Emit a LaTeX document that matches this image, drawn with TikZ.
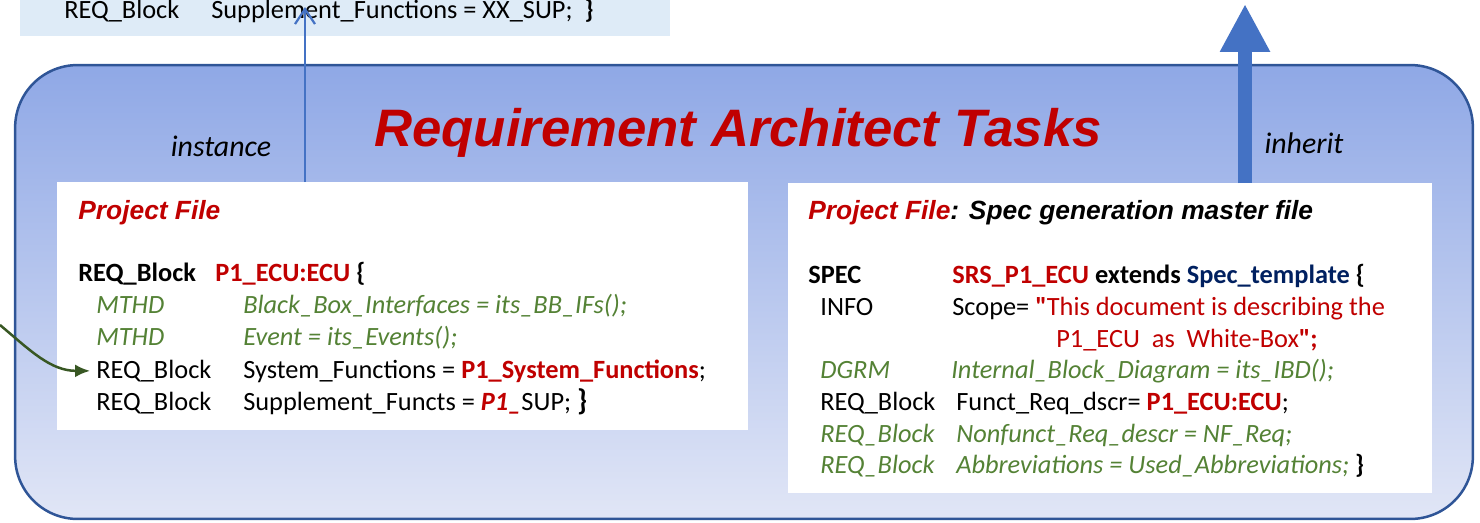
\documentclass[tikz,border=0pt]{standalone}
\usepackage{fontspec}
\setmainfont{Carlito}
\newfontfamily\arialfont{Liberation Sans}
\usepackage{xcolor}
\usepackage{tikz}
\usetikzlibrary{arrows.meta,positioning,calc}

\definecolor{taskred}{HTML}{C00000}
\definecolor{codegreen}{HTML}{548235}
\definecolor{linkgreen}{HTML}{385723}
\definecolor{arrowblue}{HTML}{4472C4}
\definecolor{frameblue}{HTML}{2F5597}
\definecolor{navyblue}{HTML}{002060}
\definecolor{supfill}{HTML}{DEEBF7}
\definecolor{tasktop}{HTML}{8FA8E6}
\definecolor{taskbottom}{HTML}{E1E6F6}

% first column of a code line
\newcommand{\col}[2]{\makebox[#1][l]{#2}}
\newcommand{\rd}[1]{\textcolor{taskred}{\textbf{#1}}}

\begin{document}
\begin{tikzpicture}[
    x=0.02cm, y=-0.02cm,
    taskframe/.style={draw=frameblue, line width=0.05cm, top color=tasktop, bottom color=taskbottom, rounded corners=1.25cm, inner sep=0},
    filebox/.style={fill=white, anchor=north west, inner sep=0},
    codeline/.style={anchor=base west, inner sep=0, font=\fontsize{15}{18}\selectfont},
    greenline/.style={codeline, text=codegreen, font=\fontsize{15}{18}\selectfont\itshape},
    pftitle/.style={anchor=base west, inner sep=0, text=taskred, font=\arialfont\bfseries\itshape\fontsize{15}{18}\selectfont},
    relname/.style={anchor=base, inner sep=0, font=\fontsize{17}{20}\selectfont\itshape},
    instarrow/.style={draw=arrowblue, line width=0.045cm, -{Straight Barb[length=0.3cm,width=0.4cm]}},
    inhbar/.style={draw=arrowblue, line width=0.28cm, -{Triangle[length=0.96cm,width=0.94cm]}},
    linkarrow/.style={draw=linkgreen, line width=0.05cm, -{Latex[length=0.3cm,width=0.26cm]}}
]
\useasboundingbox (0,0) rectangle (1480,522);

% supplement file (cut at the top)
\node[fill=supfill, anchor=south west, minimum width=13cm, minimum height=1cm, inner sep=0] (supbox) at (20,36) {};
\node[codeline] (supline) at (64,18) {\col{2.94cm}{REQ\_Block}Supplement\_Functions = XX\_SUP;~ \textbf{\}}};

% requirement architect frame
\node[taskframe, minimum width=29.16cm, minimum height=9.08cm] (tasks) at (744,292) {};
\node[anchor=base, inner sep=0, text=taskred, font=\arialfont\bfseries\itshape\fontsize{30}{36}\selectfont] (tasktitle) at (738,146) {Requirement Architect Tasks};
\node[relname] (instlbl) at (221,156) {instance};
\node[relname] (inhlbl) at (1304,153) {inherit};

% left project file
\node[filebox, minimum width=13.82cm, minimum height=4.96cm] (ecufile) at (57,182) {};
\node[pftitle] (ecutitle) at (78,219) {Project File};
\node[codeline] (ecuhead) at (78,281) {\col{2.74cm}{\textbf{REQ\_Block}}\rd{P1\_ECU:ECU} \textbf{\{}};
\node[greenline] (bbline) at (96,313) {\col{2.94cm}{MTHD}Black\_Box\_Interfaces = its\_BB\_IFs();};
\node[greenline] (evline) at (96,345.5) {\col{2.94cm}{MTHD}Event = its\_Events();};
\node[codeline] (sysline) at (96,378) {\col{2.94cm}{REQ\_Block}System\_Functions = \rd{P1\_System\_Functions};};
\node[codeline] (supref) at (96,410.5) {\col{2.94cm}{REQ\_Block}Supplement\_Functs = \textcolor{taskred}{\textbf{\textit{P1\_}}}SUP; {\fontsize{17}{20}\selectfont\textbf{\}}}};

% right project file
\node[filebox, minimum width=12.88cm, minimum height=6.2cm] (specfile) at (788,183) {};
\node[pftitle] (spectitle) at (808,219) {Project File\textcolor{black}{: Spec generation master file}};
\node[codeline] (spechead) at (808,283) {\col{2.88cm}{\textbf{SPEC}}\rd{SRS\_P1\_ECU} \textbf{extends} \textcolor{navyblue}{\textbf{Spec\_template}} \textbf{\{}};
\node[codeline] (infoline) at (820,315) {\col{2.64cm}{INFO}Scope= \textcolor{taskred}{\textbf{\textquotedbl}This document is describing the}};
\node[codeline, text=taskred] (infocont) at (1056,347) {P1\_ECU~ as~ White-Box\textbf{\textquotedbl;}};
\node[greenline] (ibdline) at (820,378) {\col{2.62cm}{DGRM}Internal\_Block\_Diagram = its\_IBD();};
\node[codeline] (fnline) at (820,410) {\col{2.72cm}{REQ\_Block}Funct\_Req\_dscr= \rd{P1\_ECU:ECU};};
\node[greenline] (nfline) at (820,442) {\col{2.72cm}{REQ\_Block}Nonfunct\_Req\_descr = NF\_Req;};
\node[greenline] (abline) at (820,473) {\col{2.72cm}{REQ\_Block}Abbreviations = Used\_Abbreviations;\textcolor{black}{\upshape\ \textbf{\}}}};

% relations
\coordinate (insttip) at (305,7);
\coordinate (inhtip) at (1245,4);
\coordinate (linkstart) at (0,325);
\draw[instarrow] (ecufile.north -| insttip) -- (insttip);
\draw[inhbar] (specfile.north -| inhtip) -- (inhtip);
\draw[linkarrow] (linkstart) to[out=-40, in=180] ([xshift=-0.12cm]sysline.west);
\end{tikzpicture}
\end{document}
